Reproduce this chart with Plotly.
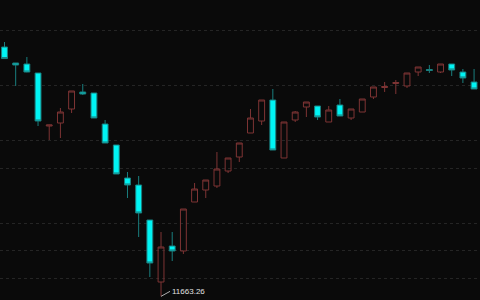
import plotly.graph_objects as go

idx = list(range(43))
opens = [12570.0, 12511.8, 12508.2, 12475.4, 12282.7, 12293.6, 12344.5, 12406.4, 12402.7, 12290.0,
         12213.6, 12093.6, 12068.2, 11940.9, 11715.4, 11846.4, 11828.2, 12006.4, 12050.0, 12064.5,
         12119.1, 12170.0, 12257.3, 12300.9, 12377.3, 12166.4, 12304.5, 12351.8, 12355.4, 12297.3,
         12359.1, 12311.8, 12333.6, 12388.2, 12422.7, 12437.3, 12428.2, 12479.1, 12488.2, 12479.1,
         12508.2, 12479.1, 12442.7]
highs = [12588.2, 12511.8, 12533.6, 12475.4, 12287.0, 12348.2, 12410.0, 12435.4, 12402.7, 12304.5,
         12213.6, 12115.4, 12100.9, 11940.9, 11897.3, 11897.3, 11980.9, 12075.4, 12086.3, 12188.2,
         12166.4, 12220.9, 12344.5, 12377.3, 12417.3, 12297.3, 12337.3, 12370.0, 12355.4, 12355.4,
         12380.9, 12344.5, 12380.9, 12424.5, 12442.7, 12450.0, 12475.4, 12497.3, 12504.5, 12508.2,
         12508.2, 12490.0, 12490.0]
lows = [12526.4, 12428.2, 12478.0, 12282.7, 12231.8, 12239.1, 12330.0, 12395.4, 12311.8, 12220.9,
        12108.2, 12020.9, 11879.1, 11733.6, 11663.26, 11791.8, 11817.3, 12006.4, 12020.9, 12057.3,
        12111.8, 12151.8, 12257.3, 12286.3, 12195.4, 12166.4, 12297.3, 12315.4, 12304.5, 12297.3,
        12319.1, 12304.5, 12333.6, 12380.9, 12406.4, 12399.1, 12420.9, 12464.5, 12475.4, 12475.4,
        12464.5, 12439.1, 12417.3]
closes = [12528.0, 12504.5, 12479.1, 12300.9, 12286.3, 12333.6, 12410.0, 12399.1, 12311.8, 12220.9,
          12108.2, 12068.2, 11966.4, 11784.5, 11842.7, 11828.2, 11980.9, 12053.6, 12086.3, 12126.3,
          12166.4, 12220.9, 12311.8, 12377.3, 12195.4, 12297.3, 12333.6, 12370.0, 12315.4, 12340.9,
          12319.1, 12344.5, 12380.9, 12424.5, 12426.4, 12440.9, 12475.4, 12497.3, 12484.5, 12508.2,
          12486.4, 12457.3, 12417.3]

grid_levels = [11730, 11830, 11930, 12130, 12230, 12430, 12630]
low_label = "11663.26"

fig = go.Figure()
fig.add_trace(go.Candlestick(
    x=idx, open=opens, high=highs, low=lows, close=closes,
    increasing=dict(line=dict(color="#7e3434", width=1), fillcolor="rgba(0,0,0,0)"),
    decreasing=dict(line=dict(color="#1a7f7f", width=1), fillcolor="#00f4f4"),
    hoverinfo="skip", showlegend=False,
))

low_i = lows.index(min(lows))
fig.add_annotation(
    x=idx[low_i], y=lows[low_i], text=low_label, showarrow=True,
    arrowhead=0, arrowwidth=1, arrowcolor="#b0b0b0", ax=9, ay=-5,
    xanchor="left", yanchor="middle",
    font=dict(family="Liberation Sans", size=8, color="#e0e0e0"),
)

fig.update_layout(
    width=480, height=300, margin=dict(l=0, r=0, t=0, b=0),
    paper_bgcolor="#0a0a0a", plot_bgcolor="#0a0a0a",
    boxgap=0.25,
    xaxis=dict(range=[-0.4025, 42.53], showgrid=False, zeroline=False,
               showticklabels=False, rangeslider=dict(visible=False), fixedrange=True),
    yaxis=dict(range=[11650.0, 12740.9], tickvals=grid_levels, showticklabels=False,
               showgrid=True, gridcolor="#252525", griddash="3px,3px", gridwidth=1,
               zeroline=False, fixedrange=True),
)

fig.write_html("out.html")
